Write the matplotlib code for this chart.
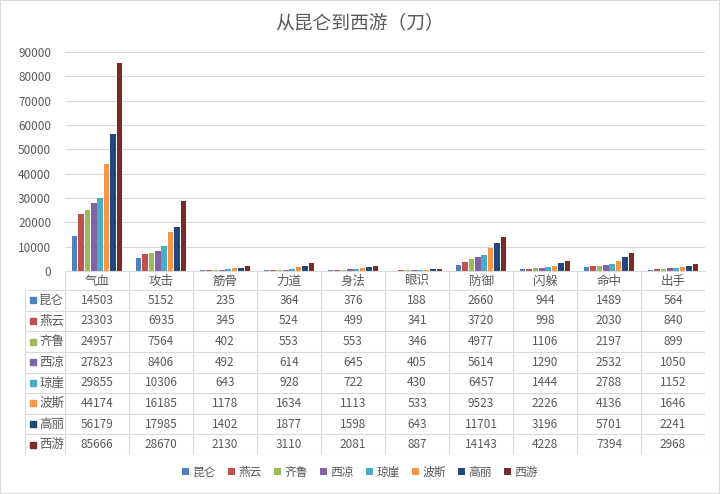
import numpy as np
import matplotlib.pyplot as plt
from matplotlib.patches import Rectangle

plt.rcParams['font.family'] = ['Noto Sans CJK SC', 'DejaVu Sans']

# 数据
categories = ["气血", "攻击", "筋骨", "力道", "身法", "眼识", "防御", "闪躲", "命中", "出手"]
series_names = ["昆仑", "燕云", "齐鲁", "西凉", "琼崖", "波斯", "高丽", "西游"]
kunlun = [14503, 5152, 235, 364, 376, 188, 2660, 944, 1489, 564]
yanyun = [23303, 6935, 345, 524, 499, 341, 3720, 998, 2030, 840]
qilu = [24957, 7564, 402, 553, 553, 346, 4977, 1106, 2197, 899]
xiliang = [27823, 8406, 492, 614, 645, 405, 5614, 1290, 2532, 1050]
qiongya = [29855, 10306, 643, 928, 722, 430, 6457, 1444, 2788, 1152]
bosi = [44174, 16185, 1178, 1634, 1113, 533, 9523, 2226, 4136, 1646]
gaoli = [56179, 17985, 1402, 1877, 1598, 643, 11701, 3196, 5701, 2241]
xiyou = [85666, 28670, 2130, 3110, 2081, 887, 14143, 4228, 7394, 2968]
series = [kunlun, yanyun, qilu, xiliang, qiongya, bosi, gaoli, xiyou]
colors = ["#4F81BD", "#C0504D", "#9BBB59", "#8064A2", "#4BACC6", "#F79646", "#1F497D", "#772C2A"]

txt = "#595959"
grid = "#D9D9D9"
W, H = 720, 494

fig = plt.figure(figsize=(7.2, 4.94), dpi=100)
fig.patches.append(Rectangle((0, 0), 1, 1, transform=fig.transFigure,
                             fill=False, edgecolor=grid, linewidth=1.5))

# 柱状图
ax = fig.add_axes([65 / W, (H - 271) / H, 640 / W, 219 / H])
x = np.arange(len(categories))
handles = []
for i, vals in enumerate(series):
    b = ax.bar(x - 0.35 + i * 0.1, vals, width=0.088, color=colors[i], label=series_names[i])
    handles.append(b)
ax.set_xlim(-0.5, len(categories) - 0.5)
ax.set_ylim(0, 90000)
ax.set_yticks(range(0, 90001, 10000))
ax.tick_params(axis='y', length=0, labelsize=8.5, labelcolor=txt, pad=10)
ax.set_xticks([])
ax.grid(axis='y', color=grid, linewidth=0.8)
ax.set_axisbelow(True)
for s in ['top', 'right', 'left']:
    ax.spines[s].set_visible(False)
ax.spines['bottom'].set_color(grid)

fig.text(0.5, 1 - 23 / H, "从昆仑到西游（刀）", ha='center', va='center',
         fontsize=13.5, color=txt)

# 数据表
lab_w = 40 / 64
tab = fig.add_axes([25 / W, (H - 455) / H, 680 / W, 184 / H])
tab.set_xlim(-0.5 - lab_w, len(categories) - 0.5)
tab.set_ylim(455, 271)
tab.axis('off')
row_top = 290
row_h = (455 - 290) / len(series)
for k in range(len(categories) + 1):
    tab.plot([k - 0.5, k - 0.5], [271, 455], color=grid, linewidth=0.8)
tab.plot([-0.5 - lab_w] * 2, [row_top, 455], color=grid, linewidth=0.8)
for r in range(len(series) + 1):
    y = row_top + r * row_h
    tab.plot([-0.5 - lab_w, len(categories) - 0.5], [y, y], color=grid, linewidth=0.8)
for j, c in enumerate(categories):
    tab.text(j, 281, c, ha='center', va='center', fontsize=9, color=txt)
for r, vals in enumerate(series):
    yc = row_top + (r + 0.5) * row_h
    tab.plot(-0.5 - lab_w + 0.13, yc, marker='s', markersize=4.5, color=colors[r], linestyle='none')
    tab.text(-0.5 - lab_w + 0.22, yc, series_names[r], ha='left', va='center', fontsize=9, color=txt)
    for j, v in enumerate(vals):
        tab.text(j, yc, str(v), ha='center', va='center', fontsize=8.5, color=txt)

fig.legend(handles=handles, loc='center', bbox_to_anchor=(0.5, 1 - 472 / H), ncol=8,
           frameon=False, fontsize=8.5, labelcolor=txt, handlelength=0.6, handleheight=0.6,
           handletextpad=0.3, columnspacing=1.0)

fig.savefig("out.png", dpi=100)
